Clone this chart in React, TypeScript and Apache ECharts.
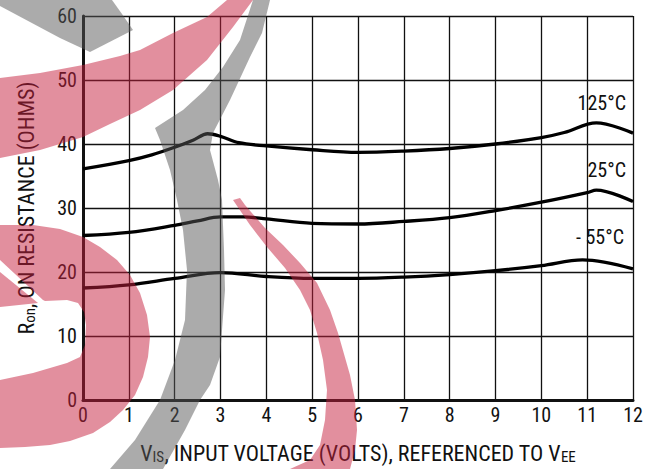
import React, { useEffect, useRef } from "react";
import * as echarts from "echarts";

// ---- data ----
const xTicks = [0, 1, 2, 3, 4, 5, 6, 7, 8, 9, 10, 11, 12];
const yTicks = [0, 10, 20, 30, 40, 50, 60];

const t125X = [0, 1, 1.5, 2, 2.4, 2.72, 3, 3.4, 4, 5, 6, 7, 8, 9, 10, 10.5, 11.2, 12];
const t125Y = [36.1, 37.4, 38.3, 39.5, 40.6, 41.6, 41.2, 40.2, 39.7, 39.1, 38.7, 38.9, 39.3, 40.0, 41.0, 41.8, 43.3, 41.7];

const t25X = [0, 1, 2, 2.5, 3, 3.5, 4, 5, 6, 7, 8, 9, 10, 11, 11.2, 12];
const t25Y = [25.7, 26.2, 27.3, 28.0, 28.6, 28.6, 28.3, 27.6, 27.5, 27.9, 28.5, 29.6, 30.9, 32.4, 32.8, 31.0];

const tm55X = [0, 1, 2, 3, 4, 5, 6, 7, 8, 9, 10, 10.9, 12];
const tm55Y = [17.5, 18.0, 19.0, 19.9, 19.3, 19.0, 19.0, 19.2, 19.6, 20.2, 21.0, 21.9, 20.5];

const seriesNames = ["125°C", "25°C", "- 55°C"];

const FONT = "'Liberation Sans Narrow', 'Roboto Condensed', 'Liberation Sans', Arial, sans-serif";

function pairs(xs: number[], ys: number[]) {
  return xs.map((x, i) => [x, ys[i]]);
}

// watermark shapes (decorative background logo)
const RED = "rgba(197,32,62,0.5)";
const GRAY = "rgba(88,88,88,0.5)";
const wmRedBand = [[0,78],[40,73],[83,65],[120,56],[140,50],[173,33],[207,17],[227,0],[253,0],[233,27],[207,60],[173,90],[140,110],[110,124],[83,137],[40,150],[0,158]];
const wmGrayTL = [[0,0],[112,0],[122,14],[133,30],[90,52],[60,38],[30,22],[0,6]];
const wmGrayArc = [[270,0],[262,33],[250,57],[230,100],[213,133],[210,150],[218,180],[222,200],[224,250],[225,290],[220,357],[210,385],[200,400],[185,430],[163,469],[110,469],[135,440],[160,400],[175,360],[185,320],[187,270],[183,230],[177,200],[170,170],[160,140],[155,128],[183,110],[205,90],[223,67],[240,40],[253,0]];
const wmRedBlob = [[0,225],[33,225],[60,229],[83,237],[100,247],[117,260],[130,275],[140,293],[147,315],[150,337],[148,357],[143,377],[135,395],[123,410],[110,422],[93,433],[70,441],[50,445],[25,447],[0,448],[0,380],[33,373],[67,363],[80,357],[85,345],[86,325],[84,312],[78,303],[67,300],[45,301],[43,300],[0,260]];
const wmRedTri = [[0,272],[38,303],[0,307]];
const wmRedRight = [[233,200],[250,225],[267,247],[285,268],[300,290],[310,310],[317,333],[323,360],[327,390],[325,420],[320,445],[310,460],[290,469],[350,469],[355,450],[357,430],[355,400],[350,375],[338,333],[330,310],[317,283],[300,263],[283,245],[265,228],[245,205],[240,198]];

export default function App() {
  const ref = useRef<HTMLDivElement>(null);
  useEffect(() => {
    document.body.style.margin = "0";
    const chart = echarts.init(ref.current!, null, { renderer: "svg" });
    const axisLabel = { fontSize: 20, color: "#111", fontFamily: FONT };
    const rich = {
      a: { fontSize: 22, lineHeight: 22, verticalAlign: "top", fontFamily: FONT, color: "#111" },
      s: { fontSize: 15, lineHeight: 15, padding: [11, 0, 0, 0], verticalAlign: "bottom", fontFamily: FONT, color: "#111" },
    };
    const poly = (pts: number[][], fill: string) => ({
      type: "polygon",
      z: 100,
      silent: true,
      shape: { points: pts },
      style: { fill },
    });
    const label = (text: string, x: number, y: number) => ({
      type: "text",
      z: 50,
      x,
      y,
      style: { text, fontSize: 20, fontFamily: FONT, fill: "#111", textAlign: "right", textVerticalAlign: "middle" },
    });
    chart.setOption({
      animation: false,
      backgroundColor: "#fff",
      grid: { left: 83, right: 27, top: 16, bottom: 69 },
      xAxis: {
        type: "value",
        min: 0,
        max: 12,
        interval: 1,
        axisLine: { show: true, onZero: false, lineStyle: { color: "#111", width: 3 } },
        axisTick: { show: false },
        splitLine: { show: true, lineStyle: { color: "#111", width: 1.3 } },
        axisLabel: { ...axisLabel, margin: 5, formatter: (v: number) => (xTicks.includes(v) ? String(v) : "") },
        name: "{a|V}{s|IS}{a|, INPUT VOLTAGE (VOLTS), REFERENCED TO V}{s|EE}",
        nameLocation: "middle",
        nameGap: 42,
        nameTextStyle: { rich },
      },
      yAxis: {
        type: "value",
        min: 0,
        max: 60,
        interval: 10,
        axisLine: { show: true, onZero: false, lineStyle: { color: "#111", width: 3 } },
        axisTick: { show: false },
        splitLine: { show: true, lineStyle: { color: "#111", width: 1.3 } },
        axisLabel: { ...axisLabel, margin: 6, formatter: (v: number) => (yTicks.includes(v) ? String(v) : "") },
        name: "{a|R}{s|on}{a|, ON RESISTANCE (OHMS)}",
        nameLocation: "middle",
        nameGap: 46,
        nameTextStyle: { rich },
      },
      series: [
        { name: seriesNames[0], data: pairs(t125X, t125Y) },
        { name: seriesNames[1], data: pairs(t25X, t25Y) },
        { name: seriesNames[2], data: pairs(tm55X, tm55Y) },
      ].map((s) => ({
        ...s,
        type: "line",
        smooth: 0.35,
        symbol: "none",
        lineStyle: { color: "#000", width: 3.3 },
      })),
      graphic: [
        label(seriesNames[0], 626, 103),
        label(seriesNames[1], 626, 170),
        label(seriesNames[2], 624, 237),
        poly(wmGrayTL, GRAY),
        poly(wmRedBand, RED),
        poly(wmGrayArc, GRAY),
        poly(wmRedBlob, RED),
        poly(wmRedTri, RED),
        poly(wmRedRight, RED),
      ],
    });
    return () => chart.dispose();
  }, []);
  return <div ref={ref} style={{ position: "fixed", left: 0, top: 0, width: 660, height: 469 }} />;
}
